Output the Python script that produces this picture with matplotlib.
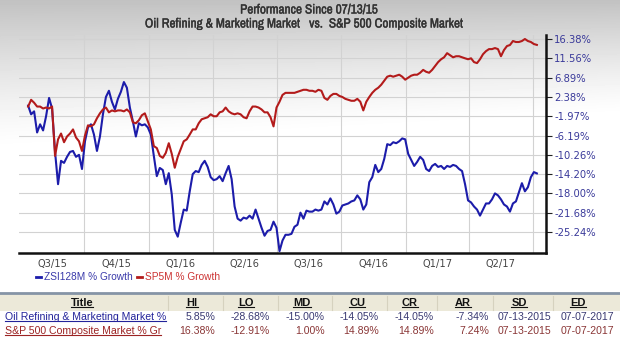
import numpy as np
import pandas as pd
import matplotlib
matplotlib.use("Agg")
import matplotlib.pyplot as plt
from matplotlib import font_manager as fm
from matplotlib import patheffects as pe
from matplotlib.lines import Line2D
from matplotlib.patches import Rectangle

# ---------------------------------------------------------------- data
start_date = "2015-07-13"
end_date = "2017-07-07"

zsi_growth = [
    0.42, -1.54, -0.88, -5.52, -3.75, -5.08, -1.97, 2.16, -0.24, -9.65,
    -16.20, -11.50, -11.92, -10.67, -9.65, -9.45, -10.67, -10.26, -13.16, -7.41,
    -4.42, -3.75, -5.97, -9.45, -6.39, -1.54, 2.38, 3.81, 1.29, -0.45,
    1.95, 3.57, 5.85, 4.52, -0.02, -3.08, -6.39, -3.52, -3.97, -3.75,
    -4.42, -5.97, -10.47, -14.60, -12.95, -13.37, -16.20, -14.00, -18.19, -24.87,
    -26.10, -23.55, -21.10, -21.30, -17.60, -14.20, -13.58, -13.79, -12.33, -11.50,
    -12.74, -14.80, -15.40, -15.20, -14.60, -15.60, -14.00, -12.54, -15.20, -20.52,
    -22.80, -23.17, -22.61, -22.80, -22.24, -22.80, -21.10, -22.80, -24.49, -25.93,
    -25.06, -24.87, -23.36, -24.49, -28.68, -26.79, -25.76, -25.76, -25.59, -24.30,
    -23.93, -21.68, -22.80, -21.30, -21.49, -21.49, -21.10, -21.30, -21.10, -19.55,
    -20.13, -18.97, -20.13, -21.87, -21.49, -20.33, -20.13, -19.94, -19.55, -19.36,
    -18.39, -19.16, -21.10, -20.13, -15.80, -14.80, -12.33, -13.79, -13.16, -11.09,
    -8.02, -8.22, -7.61, -7.82, -7.41, -6.80, -7.00, -10.06, -11.30, -12.54,
    -11.71, -10.67, -11.30, -13.16, -13.58, -12.54, -12.13, -12.74, -12.54, -13.16,
    -12.54, -12.74, -12.33, -12.54, -13.16, -13.58, -16.20, -19.36, -19.74, -20.52,
    -21.10, -22.24, -21.10, -19.94, -19.94, -19.16, -18.00, -18.39, -19.16, -20.13,
    -20.52, -21.49, -19.94, -19.55, -17.80, -16.00, -17.60, -16.80, -14.80, -13.79,
    -14.05,
]

sp5_growth = [
    0.20, 1.73, 1.07, 0.20, 0.20, -0.24, -0.02, -0.24, 0.20, -10.47,
    -7.00, -5.75, -7.61, -6.39, -5.75, -4.86, -6.60, -7.41, -9.45, -6.19,
    -3.97, -4.19, -3.75, -2.42, -1.32, -0.45, -0.02, -1.10, -0.67, -0.88,
    -0.67, -0.67, -0.88, -0.45, -1.10, -3.30, -3.52, -2.86, -1.75, -1.32,
    -3.08, -4.86, -8.43, -8.84, -10.47, -10.88, -9.85, -7.82, -10.06, -12.91,
    -10.67, -9.04, -7.41, -7.00, -5.97, -4.86, -4.86, -3.52, -2.64, -2.42,
    -2.19, -1.54, -1.97, -1.97, -1.10, -0.88, -0.02, -0.88, -1.32, -1.54,
    -1.32, -1.54, -2.19, -2.42, -0.88, 0.20, 0.20, -0.02, -0.45, -1.10,
    -1.10, -2.19, -4.20, -0.02, 1.29, 2.85, 3.33, 3.33, 3.33, 3.33,
    3.57, 3.81, 4.04, 4.04, 3.81, 3.81, 3.57, 4.04, 3.81, 2.16,
    1.73, 2.62, 3.09, 3.09, 2.62, 2.38, 1.95, 1.73, 1.51, 1.51,
    1.95, 1.29, -0.67, 1.29, 2.38, 3.33, 4.04, 4.52, 5.23, 6.17,
    7.12, 7.36, 7.12, 7.36, 7.59, 7.12, 6.41, 6.89, 7.36, 7.59,
    7.59, 8.06, 8.75, 8.29, 8.06, 8.75, 9.69, 10.63, 11.33, 11.81,
    12.83, 12.32, 11.81, 12.07, 12.07, 11.81, 11.56, 11.33, 11.56, 10.63,
    10.39, 11.33, 12.57, 13.33, 13.84, 13.84, 14.10, 13.84, 12.07, 13.59,
    14.60, 14.86, 15.87, 15.62, 15.62, 15.87, 16.38, 15.87, 15.62, 15.11,
    14.89,
]

y_tick_values = [16.38, 11.56, 6.89, 2.38, -1.97, -6.19, -10.26, -14.20,
                 -18.00, -21.68, -25.24]
quarter_labels = ["Q3/15", "Q4/15", "Q1/16", "Q2/16", "Q3/16", "Q4/16",
                  "Q1/17", "Q2/17"]
series_names = ["ZSI128M % Growth", "SP5M % Growth"]

table_columns = ["Title", "HI", "LO", "MD", "CU", "CR", "AR", "SD", "ED"]
table_titles = ["Oil Refining & Marketing Market %",
                "S&P 500 Composite Market % Gr"]
table_values = [
    ["5.85%", "-28.68%", "-15.00%", "-14.05%", "-14.05%", "-7.34%",
     "07-13-2015", "07-07-2017"],
    ["16.38%", "-12.91%", "1.00%", "14.89%", "14.89%", "7.24%",
     "07-13-2015", "07-07-2017"],
]

# ---------------------------------------------------------------- style
W, H = 620, 341
entries = fm.fontManager.ttflist
installed = {f.name for f in entries}


def pick_narrow():
    for f in entries:
        if "Narrow" in f.name or "Condensed" in f.name:
            return dict(family=f.name)
    return None


narrow_spec = pick_narrow()
sans = "Liberation Sans" if "Liberation Sans" in installed else "DejaVu Sans"
verd = "DejaVu Sans"
TITLE_COL = "#333333"
if narrow_spec is None:
    title_kw = dict(family=["Roboto", sans], fontsize=8.6, fontweight="bold")
else:
    title_kw = dict(fontsize=9.5, fontweight="bold", **narrow_spec)
title_kw["path_effects"] = [pe.withStroke(linewidth=0.25, foreground=TITLE_COL)]

BLUE = "#1c1caa"
RED = "#b31b1b"
GRID = "#d2d2d2"


def fx(px):
    return px / W


def fy(py):
    return 1 - py / H


fig = plt.figure(figsize=(W / 100, H / 100), dpi=100)

# soft grey backdrop fading to white
bg = fig.add_axes([0, 0, 1, 1], zorder=-10)
yy, xx = np.mgrid[0:H, 0:W]
fade_end = 150 - 35 * (xx / W)
t = np.clip(yy / fade_end, 0, 1)
gray = 1 - 0.24 * (1 - t) ** 1.3
bg.imshow(gray, cmap="gray", vmin=0, vmax=1, aspect="auto",
          extent=[0, 1, 0, 1], interpolation="bilinear")
bg.set_axis_off()

# ---------------------------------------------------------------- chart
ax = fig.add_axes([fx(19), fy(253), fx(546) - fx(19), fy(35) - fy(253)])
ax.patch.set_visible(False)

dates = pd.date_range(start_date, end_date, periods=len(zsi_growth))
ax.plot(dates, zsi_growth, color=BLUE, lw=1.5, solid_joinstyle="round", zorder=3)
ax.plot(dates, sp5_growth, color=RED, lw=1.5, solid_joinstyle="round", zorder=4)

ax.set_yscale("function", functions=(lambda v: np.log(np.asarray(v) + 130.0),
                                     lambda u: np.exp(np.asarray(u)) - 130.0))
ax.set_ylim(-29.0, 17.4)
ax.set_yticks(y_tick_values)
ax.set_yticklabels([f"{v:.2f}%" for v in y_tick_values])
ax.yaxis.set_minor_locator(matplotlib.ticker.NullLocator())
ax.yaxis.tick_right()
ax.tick_params(axis="y", which="major", direction="out", length=4, width=0.8,
               pad=2, labelsize=7.2, labelcolor="#3a3a9a", colors="#222222")
for lab in ax.get_yticklabels():
    lab.set_family(verd)

# quarter boundaries carry the grid, quarter middles carry the labels
q_edges = pd.date_range("2015-07-01", periods=len(quarter_labels) + 1, freq="QS")
q_mids = q_edges[:-1] + (q_edges[1:] - q_edges[:-1]) / 2
ax.set_xlim(pd.Timestamp("2015-06-30"), pd.Timestamp("2017-07-20"))
ax.set_xticks(q_edges[1:])
ax.set_xticklabels([""] * (len(q_edges) - 1))
ax.set_xticks(q_mids, minor=True)
ax.set_xticklabels(quarter_labels, minor=True)
ax.tick_params(axis="x", which="both", length=0, pad=4, labelsize=7.1,
               labelcolor="#444444")
for lab in ax.get_xticklabels(minor=True):
    lab.set_family(verd)

ax.grid(axis="x", which="major", color=GRID, lw=0.8)
ax.grid(axis="y", which="major", color=GRID, lw=0.8)
ax.set_axisbelow(True)

for side in ("left", "top"):
    ax.spines[side].set_visible(False)
for side in ("right", "bottom"):
    ax.spines[side].set_linewidth(1.8)
    ax.spines[side].set_color("#111111")

# titles
fig.text(fx(309), fy(10), "Performance Since 07/13/15", ha="center",
         va="center", color=TITLE_COL, **title_kw)
fig.text(fx(304), fy(24),
         "Oil Refining & Marketing Market   vs.  S&P 500 Composite Market",
         ha="center", va="center", color=TITLE_COL, **title_kw)

# legend
for (x0, name, col, tcol) in ((36, series_names[0], BLUE, "#3a3aaa"),
                              (137, series_names[1], RED, "#cc3333")):
    fig.add_artist(Line2D([fx(x0), fx(x0 + 5)], [fy(277), fy(277)],
                          color=col, lw=2.0))
    fig.text(fx(x0 + 8), fy(277), name, ha="left", va="center",
             fontsize=7.3, family=sans, color=tcol)

# ---------------------------------------------------------------- table
fig.add_artist(Rectangle((0, fy(311)), 1, fy(294) - fy(311),
                         transform=fig.transFigure, facecolor="#ece9d9",
                         edgecolor="none"))
fig.add_artist(Line2D([0, 1], [fy(293), fy(293)], color="#8594a6", lw=2.0))
for sx in (168, 223, 278, 332, 387, 437, 493, 553):
    fig.add_artist(Line2D([fx(sx), fx(sx)], [fy(296), fy(310)],
                          color="#d6d2bf", lw=0.8))

header_x = [82, 192, 246, 302, 357, 410, 463, 519, 578]
value_right = [215, 270, 325, 379, 434, 489, 551, 614]
row_y = [317, 331]
title_cols = ["#23239a", "#9c2323"]
value_cols = ["#3a3a72", "#8a3636"]

underlined = []
for cx, name in zip(header_x, table_columns):
    t = fig.text(fx(cx), fy(303), name, ha="center", va="center",
                 fontsize=8.0, fontweight="bold", family=sans, color="#111111")
    underlined.append((t, "#111111"))

for r in range(2):
    t = fig.text(fx(5), fy(row_y[r]), table_titles[r], ha="left", va="center",
                 fontsize=7.6, family=sans, color=title_cols[r])
    underlined.append((t, title_cols[r]))
    for rx, val in zip(value_right, table_values[r]):
        fig.text(fx(rx), fy(row_y[r]), val, ha="right", va="center",
                 fontsize=7.6, family=sans, color=value_cols[r])

fig.canvas.draw()
renderer = fig.canvas.get_renderer()
for t, col in underlined:
    bb = t.get_window_extent(renderer)
    yline = (bb.y0 + 1.0) / (H)
    fig.add_artist(Line2D([bb.x0 / W, bb.x1 / W], [yline, yline],
                          color=col, lw=0.8))

fig.savefig("out.png", dpi=100)
